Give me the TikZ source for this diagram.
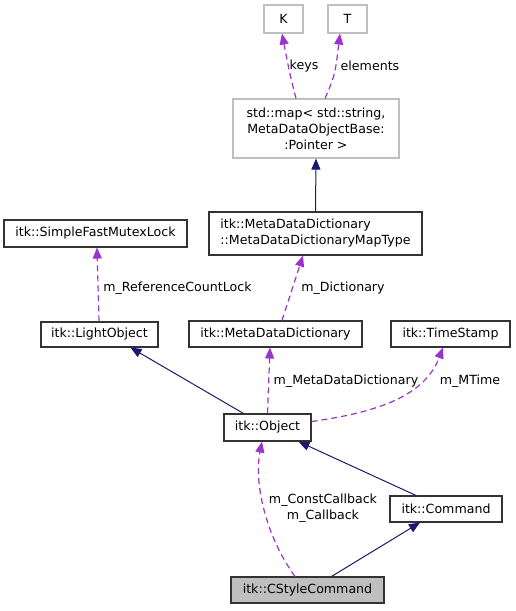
\documentclass[tikz,border=0pt]{standalone}
\usepackage{fontspec}
\setmainfont{DejaVu Sans}
\usetikzlibrary{arrows.meta,positioning}
\definecolor{edgeblue}{HTML}{191970}
\definecolor{edgepurple}{HTML}{9A32CD}
\newcommand{\doxfont}{\fontsize{12.6}{16}\selectfont}

\begin{document}
\begin{tikzpicture}[x=1pt,y=-1pt,
  every node/.style={font=\doxfont,inner sep=2pt},
  cls/.style={draw=black!80,line width=1.1pt,fill=white,minimum height=26pt},
  tmpl/.style={cls,draw=black!25},
  inherit/.style={edgeblue,line width=1pt,-{Triangle[length=11pt,width=9pt]}},
  member/.style={edgepurple,line width=1.2pt,dash pattern=on 6pt off 4pt,
    -{Triangle[length=11pt,width=9pt]}},
  lbl/.style={inner sep=0pt}]
  \useasboundingbox (0,0) rectangle (515,611);

  % Template arguments and map
  \node[tmpl,minimum width=39pt,minimum height=28pt] (K) at (283.5,19) {K};
  \node[tmpl,minimum width=39pt,minimum height=28pt] (T) at (347.5,19) {T};
  \node[tmpl,minimum width=166pt,minimum height=59pt,align=center] (map) at (316,128.5)
    {std::map< std::string,\\ MetaDataObjectBase:\\:Pointer >};

  % Classes
  \node[cls,minimum width=213pt,minimum height=43pt,align=left] (maptype) at (315.5,233.5)
    {itk::MetaDataDictionary\\::MetaDataDictionaryMapType};
  \node[cls,minimum width=183pt,minimum height=27pt] (sfml) at (95.5,233.5) {itk::SimpleFastMutexLock};
  \node[cls,minimum width=117pt,minimum height=25pt] (light) at (99.5,334.5) {itk::LightObject};
  \node[cls,minimum width=173pt] (mdd) at (275.5,334) {itk::MetaDataDictionary};
  \node[cls,minimum width=119pt] (ts) at (450.5,334) {itk::TimeStamp};
  \node[cls,minimum width=87pt,minimum height=27pt] (obj) at (267.5,427.5) {itk::Object};
  \node[cls,minimum width=112pt] (cmd) at (446,509) {itk::Command};
  \node[cls,fill=black!25,minimum width=153pt] (cs) at (307.5,590) {itk::CStyleCommand};

  % Inheritance
  \draw[inherit] (maptype.north) -- (map.south);
  \draw[inherit] ([xshift=-24pt]obj.north) -- ([xshift=31pt]light.south);
  \draw[inherit] ([xshift=-30pt]cmd.north) -- ([xshift=31pt]obj.south);
  \draw[inherit] ([xshift=24pt]cs.north) -- ([xshift=-26pt]cmd.south);

  % Members
  \draw[member] ([xshift=-20pt]map.north) .. controls (290,75) .. ([xshift=-1.5pt]K.south);
  \draw[member] ([xshift=9pt]map.north) .. controls (335,75) .. ([xshift=-7.5pt]T.south);
  \draw[member] ([xshift=-0.5pt]light.north) -- ([xshift=1.5pt]sfml.south);
  \draw[member] ([xshift=6.5pt]mdd.north) -- ([xshift=-12.5pt]maptype.south);
  \draw[member] (obj.north) -- ([xshift=-5.5pt]mdd.south);
  \draw[member] ([yshift=6pt]obj.east) .. controls (380,412) and (425,395) .. ([xshift=-7.5pt]ts.south);
  \draw[member] ([xshift=-12.5pt]cs.north) .. controls (265,535) and (254,482) .. ([xshift=-5.5pt]obj.south);

  % Member labels
  \node[lbl] (lkeys) at (304,66) {keys};
  \node[lbl] (lelem) at (370,66) {elements};
  \node[lbl] (lrcl) at (177.5,288) {m\_ReferenceCountLock};
  \node[lbl] (ldict) at (343,288) {m\_Dictionary};
  \node[lbl] (lmdd) at (346,381) {m\_MetaDataDictionary};
  \node[lbl] (lmt) at (470,381) {m\_MTime};
  \node[lbl,align=center] (lcb) at (323,508.5) {m\_ConstCallback\\m\_Callback};
\end{tikzpicture}
\end{document}
